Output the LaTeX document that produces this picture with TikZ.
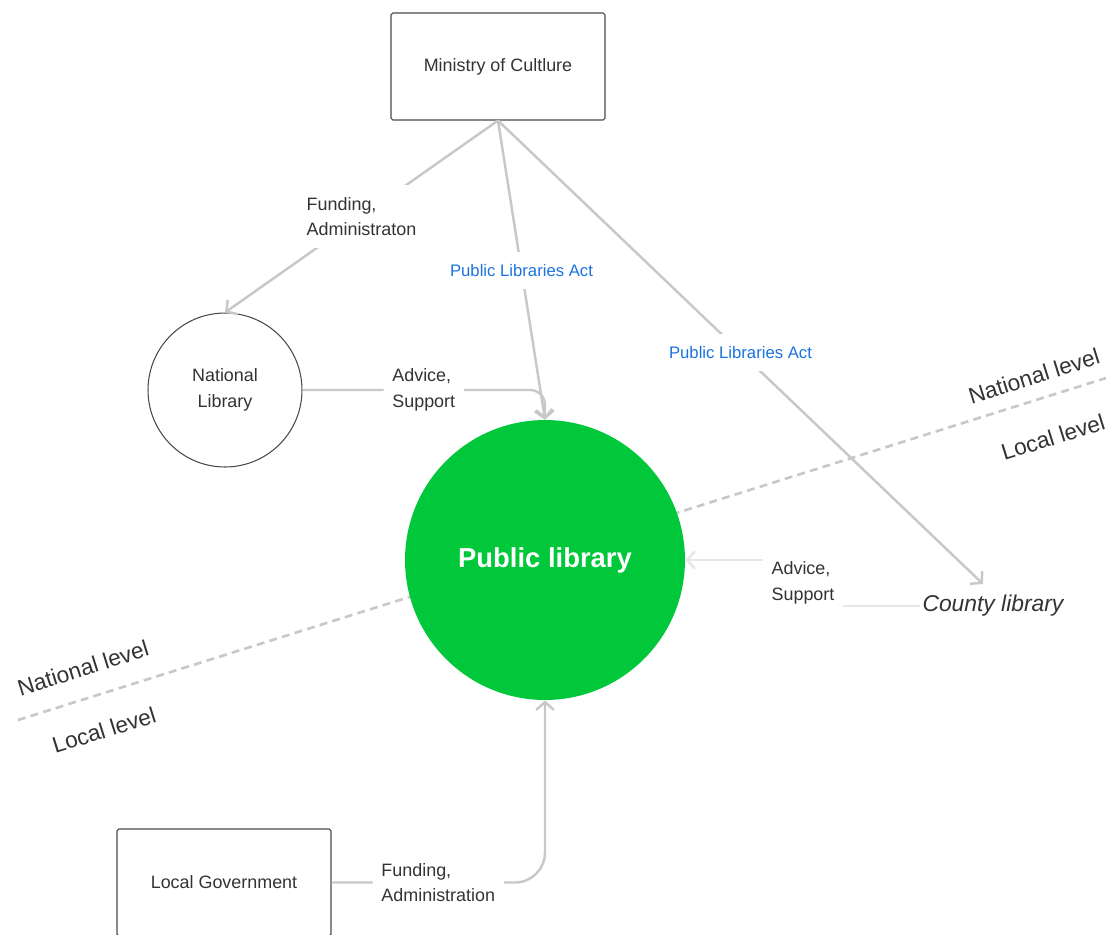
\documentclass[tikz,border=0pt]{standalone}
\usepackage{fontspec}
\setmainfont{Liberation Sans}
\usepackage{xcolor}
\usetikzlibrary{arrows.meta}
\definecolor{linegray}{HTML}{C8C8C8}
\definecolor{faintgray}{HTML}{E6E6E6}
\definecolor{textgray}{HTML}{333333}
\definecolor{actblue}{HTML}{1A73E0}
\definecolor{libgreen}{HTML}{00C83A}
\definecolor{bordergray}{HTML}{4A4A4A}
\tikzset{
    basenode/.style = {align=center, inner sep=0pt, text centered, text=textgray},
    box_node/.style = {basenode, rectangle, rounded corners=1pt, draw=bordergray, line width=0.6pt, minimum width=4.28cm, minimum height=2.14cm, font=\fontsize{10.2}{14.7}\selectfont},
    nat_node/.style = {basenode, circle, draw=bordergray, line width=0.6pt, minimum size=3.08cm, font=\fontsize{10.2}{14.7}\selectfont},
    pub_node/.style = {basenode, circle, fill=libgreen, text=white, minimum size=5.6cm, font=\fontsize{15.6}{18}\selectfont\bfseries},
    county_node/.style = {basenode, inner sep=1pt, font=\fontsize{13}{15}\selectfont\itshape},
    lbl/.style = {basenode, align=left, fill=white, inner xsep=5pt, inner ysep=7pt, font=\fontsize{10.2}{14.7}\selectfont},
    act_lbl/.style = {lbl, text=actblue, font=\fontsize{9.5}{12}\selectfont},
    level_lbl/.style = {basenode, rotate=17.4, font=\fontsize{12.9}{15}\selectfont}
}
\tikzset{
    flow/.style = {draw=linegray, line width=1.4pt, -{Straight Barb[length=4.5pt,width=10pt]}},
    faint_flow/.style = {flow, draw=faintgray},
    divider/.style = {draw=linegray, line width=1.5pt, dash pattern=on 4.5pt off 3pt}
}

\begin{document}
\begin{tikzpicture}[x=0.02cm, y=-0.02cm]
    \useasboundingbox (0,0) rectangle (1106,934);

    % level divider
    \draw[divider] (18,720) -- (1106,378);
    \node[level_lbl] (natL) at (83,668) {National level};
    \node[level_lbl] (locL) at (104,730) {Local level};
    \node[level_lbl] (natR) at (1034,376) {National level};
    \node[level_lbl] (locR) at (1053,437) {Local level};

    \node[box_node] (ministry) at (498,66.5) {Ministry of Cultlure};
    \node[nat_node] (natlib) at (225,390) {National\\Library};
    \node[pub_node] (pub) at (545,560) {Public library};
    \node[county_node] (county) at (993,606) {County library};
    \node[box_node] (locgov) at (224,882.5) {Local Government};
    \coordinate (cbend) at (803,606);
    \coordinate (ctytop) at (983,584);

    \draw[flow] (ministry.south) -- node[lbl] {Funding,\\Administraton} (natlib.north);
    \draw[flow] (ministry.south) -- node[act_lbl] {Public Libraries Act} (pub.north);
    \draw[flow] (ministry.south) -- node[act_lbl] {Public Libraries Act} (ctytop);
    \draw[flow, rounded corners=0.3cm] (natlib.east) -| node[lbl, pos=0.25] {Advice,\\Support} (pub.north);
    \draw[faint_flow] (county.west) -- (cbend) |- node[lbl, pos=0.25] {Advice,\\Support} (pub.east);
    \draw[flow, rounded corners=0.6cm] (locgov.east) -| node[lbl, pos=0.25] {Funding,\\Administration} (pub.south);
\end{tikzpicture}
\end{document}
